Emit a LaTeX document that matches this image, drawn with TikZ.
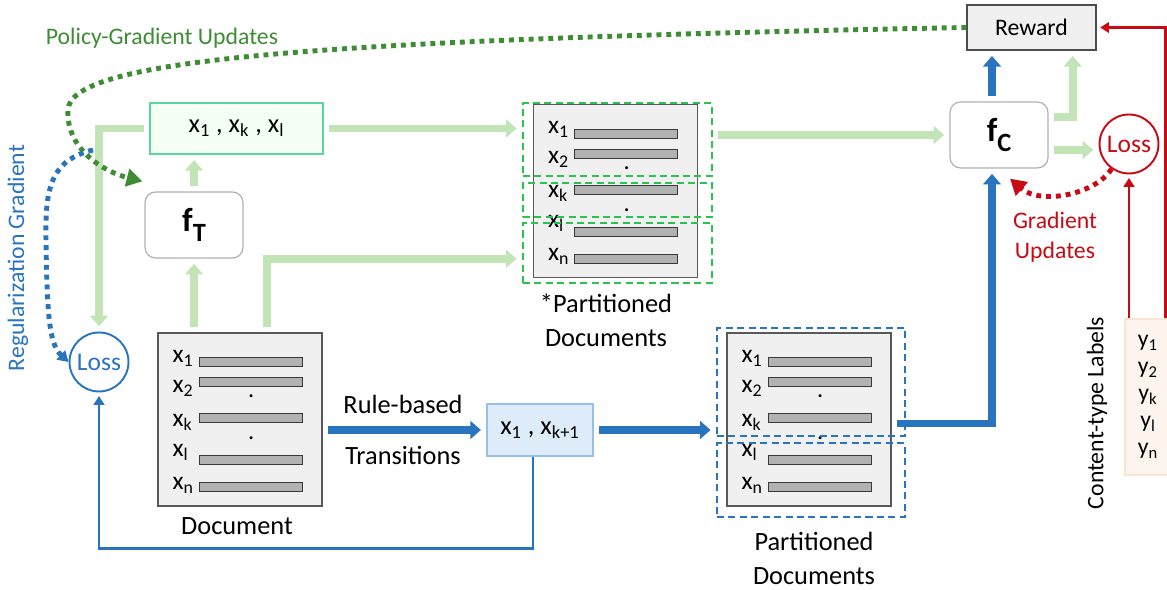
\documentclass[tikz,border=0pt]{standalone}
\usepackage{fontspec}
\setmainfont{Carlito}
\usetikzlibrary{arrows.meta,calc}

\definecolor{lgreen}{RGB}{194,228,182}
\definecolor{dgreen}{RGB}{62,140,52}
\definecolor{mblue}{RGB}{40,116,190}
\definecolor{mred}{RGB}{200,10,20}
\definecolor{mint}{RGB}{90,215,155}
\definecolor{dashg}{RGB}{40,196,80}
\definecolor{sboxfill}{RGB}{222,235,248}
\definecolor{sboxline}{RGB}{150,192,232}
\definecolor{labfill}{RGB}{253,244,238}
\definecolor{labline}{RGB}{250,228,214}

\tikzset{
  txt/.style={font=\fontsize{13.5}{16}\selectfont, inner sep=1pt},
  captxt/.style={font=\fontsize{15}{19.3}\selectfont, inner sep=1pt, align=center},
  docbox/.style={draw=gray!70!black, fill=gray!12, line width=0.8pt, minimum width=3.28cm, minimum height=3.46cm, inner sep=0pt},
  bar/.style={draw=gray!45!black, fill=gray!60, line width=0.6pt, minimum width=2.06cm, minimum height=0.18cm, inner sep=0pt},
  rowlab/.style={font=\fontsize{14.5}{16}\selectfont, inner sep=0pt, anchor=base west},
  fbox/.style={draw=gray!60, fill=white, rounded corners=6pt, line width=0.7pt, minimum width=1.96cm, minimum height=1.32cm},
  losscirc/.style={circle, draw, line width=1.1pt, minimum size=1.18cm, inner sep=0pt, font=\fontsize{14.5}{16}\selectfont},
  gpart/.style={draw=dashg, line width=1.3pt, dash pattern=on 4pt off 2.5pt, minimum width=3.78cm, inner sep=0pt},
  bpart/.style={draw=mblue, line width=1.3pt, dash pattern=on 4pt off 2.5pt, minimum width=3.76cm, inner sep=0pt},
  thickg/.style={draw=lgreen, line width=4.5pt, -{Triangle[width=10pt,length=6pt]}, shorten <=3pt, shorten >=3pt},
  thickb/.style={draw=mblue, line width=4.5pt, -{Triangle[width=10pt,length=6pt]}, shorten <=3pt, shorten >=3pt},
  thinb/.style={draw=mblue, line width=1.6pt, -{Triangle[width=6pt,length=5pt]}, shorten >=2pt},
  thinr/.style={draw=mred, line width=1.6pt, -{Triangle[width=6pt,length=5pt]}, shorten >=2pt},
  sqdots/.style={line width=2.8pt, dash pattern=on 2.8pt off 2.8pt},
}

% f with a big subscript
\newcommand{\fsub}[1]{{\fontsize{19}{22}\selectfont\bfseries f\raisebox{-0.3em}{\fontsize{15}{17}\selectfont #1}}}

% rows of a document box, #1 = name of the box
\newcommand{\docrows}[1]{%
  \foreach \s/\dy/\ly in {1/30/30,2/50/60,k/86/94,l/128/124,n/155/157}{
    \node[rowlab] (#1-\s) at ($(#1.north west)+(15,\ly)$) {\smash{x\textsubscript{\s}}};
    \node[bar] (#1-b\s) at ($(#1.north west)+(93.5,\dy)$) {};
  }
  \foreach \dy in {64,106}{
    \node[font=\fontsize{14}{16}\selectfont, inner sep=0pt] at ($(#1.north west)+(94,\dy)$) {.};
  }
}

\begin{document}
\begin{tikzpicture}[x=0.02cm, y=-0.02cm]
\useasboundingbox (0,0) rectangle (1167,590);

% boxes
\node[draw=gray!60!black, fill=gray!12, line width=0.8pt, minimum width=2.58cm, minimum height=0.9cm, txt] (reward) at (1031.5,27.5) {Reward};
\node[fbox] (fc) at (999,135) {\fsub{C}};
\node[fbox] (ft) at (194,225) {\fsub{T}};
\node[draw=mint, fill=green!4, line width=0.9pt, minimum width=3.46cm, minimum height=1.02cm, font=\fontsize{15}{17}\selectfont] (xbox) at (236.5,128.5) {x\textsubscript{1} , x\textsubscript{k} , x\textsubscript{l}};
\node[draw=sboxline, fill=sboxfill, line width=0.9pt, minimum width=2.12cm, minimum height=1.04cm, font=\fontsize{15}{17}\selectfont] (sbox) at (540,430) {x\textsubscript{1} , x\textsubscript{k+1}};
\node[losscirc, draw=mblue, text=mblue] (lossb) at (99,362) {Loss};
\node[losscirc, draw=mred, text=mred] (lossr) at (1129,144) {Loss};
\node[draw=labline, fill=labfill, line width=0.8pt, minimum width=0.92cm, minimum height=3.12cm, align=center, font=\fontsize{13.5}{15.3}\selectfont] (labels) at (1148,397) {y\textsubscript{1}\\y\textsubscript{2}\\y\textsubscript{k}\\y\textsubscript{l}\\y\textsubscript{n}};

% documents
\node[docbox] (doc) at (240,419.5) {};
\docrows{doc}
\node[docbox] (sdoc) at (615.5,191) {};
\docrows{sdoc}
\node[docbox] (pdoc) at (809,419.5) {};
\docrows{pdoc}

% partitions
\node[gpart, minimum height=1.46cm] (spart1) at (617.5,139.5) {};
\node[gpart, minimum height=0.68cm] (spart2) at (617.5,200) {};
\node[gpart, minimum height=1.2cm] (spart3) at (617.5,253) {};
\node[bpart, minimum height=2.16cm] (ppart1) at (811,382) {};
\node[bpart, minimum height=1.48cm] (ppart2) at (811,480) {};

% captions
\node[captxt] (doccap) at (237,526) {Document};
\node[captxt] (sdoccap) at (606,320) {*Partitioned\\Documents};
\node[captxt] (pdoccap) at (814,558) {Partitioned\\Documents};
\node[captxt] (rbcap) at (403,404) {Rule-based};
\node[captxt] (trcap) at (403,455) {Transitions};
\node[txt, text=dgreen] (pgcap) at (162,38) {Policy-Gradient Updates};
\node[txt, text=mblue, rotate=90] (rgcap) at (18,258) {Regularization Gradient};
\node[txt, text=mred, align=center, font=\fontsize{13.5}{17}\selectfont] (gucap) at (1055,237) {Gradient\\Updates};
\node[txt, rotate=90] (ctcap) at (1097,413) {Content-type Labels};

% light green flow
\draw[thickg] (xbox.west) -| (lossb.north);
\draw[thickg] (ft.south |- doc.north) -- (ft.south);
\draw[thickg] (ft.north) -- (ft.north |- xbox.south);
\draw[thickg] ($(doc.north west)+(110,0)$) |- (spart3.west |- sdoc-bn);
\draw[thickg] (xbox.east) -- (spart1.west |- xbox.east);
\draw[thickg] (fc.west -| spart1.east) -- (fc.west);
\draw[thickg] ($(fc.east)+(0,15)$) coordinate (fcl) -- (fcl -| lossr.west);
\draw[thickg] ($(fc.east)+(0,-18)$) -| ($(reward.south east)+(-24,0)$);

% blue flow
\draw[thickb] (doc.east |- sbox.west) -- (sbox.west);
\draw[thickb] (sbox.east) -- (ppart1.west |- sbox.east);
\draw[thickb] ($(pdoc.east)+(0,4)$) -| ($(fc.south)+(-7,0)$);
\draw[thickb] ($(fc.north)+(-7,0)$) -- ($(reward.south)+(-39.5,0)$);
\draw[thinb] ($(sbox.south)+(-7,0)$) -- ++(0,92) -| (lossb.south);

% red lines
\draw[thinr] (lossr.south |- labels.north) -- (lossr.south);
\draw[thinr] ($(labels.north east)+(-6,0)$) |- (reward.east);

% dotted updates
\coordinate (rgstart) at (93,150);
\draw[sqdots, dgreen, -{Triangle[width=10pt,length=9pt]}] (reward.west) .. controls (300,40) and (70,60) .. (68,110) .. controls (66,150) and (105,172) .. ($(ft.north west)+(-2,-10)$);
\draw[sqdots, mblue, -{Triangle[width=7pt,length=6pt]}] (rgstart) .. controls (50,160) and (45,190) .. (46,240) .. controls (47,320) and (50,345) .. (lossb.west);
\draw[sqdots, mred, -{Triangle[width=10pt,length=9pt]}] (lossr.235) .. controls (1095,195) and (1040,205) .. ($(fc.south)+(11,10)$);

\end{tikzpicture}
\end{document}
